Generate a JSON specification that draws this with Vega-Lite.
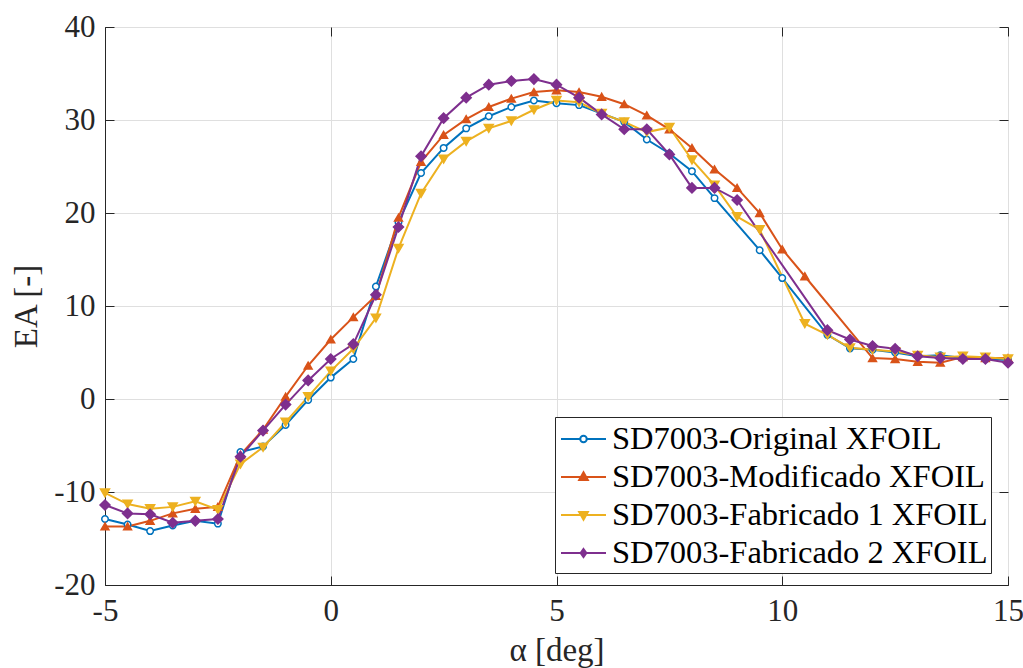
{
  "$schema": "https://vega.github.io/schema/vega-lite/v6.json",
  "width": 903,
  "height": 558,
  "autosize": {"type": "none"},
  "padding": {"left": 105, "top": 27, "right": 15, "bottom": 83},
  "background": "white",
  "config": {
    "view": {"stroke": "#262626", "strokeWidth": 1},
    "font": "Liberation Serif",
    "axis": {
      "labelFont": "Liberation Serif",
      "titleFont": "Liberation Serif",
      "labelFontSize": 31,
      "titleFontSize": 33,
      "titleFontWeight": "normal",
      "labelColor": "#262626",
      "titleColor": "#262626",
      "domainColor": "#262626",
      "tickColor": "#262626",
      "gridColor": "#dfdfdf",
      "gridOpacity": 1,
      "gridWidth": 1,
      "tickWidth": 1,
      "labelFlush": false
    }
  },
  "datasets": {
    "pts": [
      {"s": "SD7003-Original XFOIL", "a": -5, "ea": -12.9},
      {"s": "SD7003-Original XFOIL", "a": -4.5, "ea": -13.5},
      {"s": "SD7003-Original XFOIL", "a": -4, "ea": -14.2},
      {"s": "SD7003-Original XFOIL", "a": -3.5, "ea": -13.6},
      {"s": "SD7003-Original XFOIL", "a": -3, "ea": -13.1},
      {"s": "SD7003-Original XFOIL", "a": -2.5, "ea": -13.4},
      {"s": "SD7003-Original XFOIL", "a": -2, "ea": -5.7},
      {"s": "SD7003-Original XFOIL", "a": -1.5, "ea": -5.1},
      {"s": "SD7003-Original XFOIL", "a": -1, "ea": -2.8},
      {"s": "SD7003-Original XFOIL", "a": -0.5, "ea": -0.1},
      {"s": "SD7003-Original XFOIL", "a": 0, "ea": 2.3},
      {"s": "SD7003-Original XFOIL", "a": 0.5, "ea": 4.3},
      {"s": "SD7003-Original XFOIL", "a": 1, "ea": 12.1},
      {"s": "SD7003-Original XFOIL", "a": 1.5, "ea": 19.0},
      {"s": "SD7003-Original XFOIL", "a": 2, "ea": 24.3},
      {"s": "SD7003-Original XFOIL", "a": 2.5, "ea": 27.0},
      {"s": "SD7003-Original XFOIL", "a": 3, "ea": 29.1},
      {"s": "SD7003-Original XFOIL", "a": 3.5, "ea": 30.4},
      {"s": "SD7003-Original XFOIL", "a": 4, "ea": 31.4},
      {"s": "SD7003-Original XFOIL", "a": 4.5, "ea": 32.1},
      {"s": "SD7003-Original XFOIL", "a": 5, "ea": 31.8},
      {"s": "SD7003-Original XFOIL", "a": 5.5, "ea": 31.6},
      {"s": "SD7003-Original XFOIL", "a": 6, "ea": 30.7},
      {"s": "SD7003-Original XFOIL", "a": 6.5, "ea": 29.8},
      {"s": "SD7003-Original XFOIL", "a": 7, "ea": 27.9},
      {"s": "SD7003-Original XFOIL", "a": 7.5, "ea": 26.4},
      {"s": "SD7003-Original XFOIL", "a": 8, "ea": 24.5},
      {"s": "SD7003-Original XFOIL", "a": 8.5, "ea": 21.6},
      {"s": "SD7003-Original XFOIL", "a": 9.5, "ea": 16.0},
      {"s": "SD7003-Original XFOIL", "a": 10, "ea": 13.0},
      {"s": "SD7003-Original XFOIL", "a": 11, "ea": 6.9},
      {"s": "SD7003-Original XFOIL", "a": 11.5, "ea": 5.45},
      {"s": "SD7003-Original XFOIL", "a": 12, "ea": 5.3},
      {"s": "SD7003-Original XFOIL", "a": 12.5, "ea": 5.0},
      {"s": "SD7003-Original XFOIL", "a": 13, "ea": 4.6},
      {"s": "SD7003-Original XFOIL", "a": 13.5, "ea": 4.7},
      {"s": "SD7003-Original XFOIL", "a": 14, "ea": 4.4},
      {"s": "SD7003-Original XFOIL", "a": 14.5, "ea": 4.3},
      {"s": "SD7003-Original XFOIL", "a": 15, "ea": 4.2},

      {"s": "SD7003-Modificado XFOIL", "a": -5, "ea": -13.7},
      {"s": "SD7003-Modificado XFOIL", "a": -4.5, "ea": -13.7},
      {"s": "SD7003-Modificado XFOIL", "a": -4, "ea": -13.1},
      {"s": "SD7003-Modificado XFOIL", "a": -3.5, "ea": -12.3},
      {"s": "SD7003-Modificado XFOIL", "a": -3, "ea": -11.8},
      {"s": "SD7003-Modificado XFOIL", "a": -2.5, "ea": -11.6},
      {"s": "SD7003-Modificado XFOIL", "a": -2, "ea": -6.0},
      {"s": "SD7003-Modificado XFOIL", "a": -1.5, "ea": -3.3},
      {"s": "SD7003-Modificado XFOIL", "a": -1, "ea": 0.25},
      {"s": "SD7003-Modificado XFOIL", "a": -0.5, "ea": 3.6},
      {"s": "SD7003-Modificado XFOIL", "a": 0, "ea": 6.4},
      {"s": "SD7003-Modificado XFOIL", "a": 0.5, "ea": 8.8},
      {"s": "SD7003-Modificado XFOIL", "a": 1, "ea": 11.1},
      {"s": "SD7003-Modificado XFOIL", "a": 1.5, "ea": 19.5},
      {"s": "SD7003-Modificado XFOIL", "a": 2, "ea": 25.5},
      {"s": "SD7003-Modificado XFOIL", "a": 2.5, "ea": 28.4},
      {"s": "SD7003-Modificado XFOIL", "a": 3, "ea": 30.1},
      {"s": "SD7003-Modificado XFOIL", "a": 3.5, "ea": 31.4},
      {"s": "SD7003-Modificado XFOIL", "a": 4, "ea": 32.3},
      {"s": "SD7003-Modificado XFOIL", "a": 4.5, "ea": 33.0},
      {"s": "SD7003-Modificado XFOIL", "a": 5, "ea": 33.2},
      {"s": "SD7003-Modificado XFOIL", "a": 5.5, "ea": 33.0},
      {"s": "SD7003-Modificado XFOIL", "a": 6, "ea": 32.5},
      {"s": "SD7003-Modificado XFOIL", "a": 6.5, "ea": 31.7},
      {"s": "SD7003-Modificado XFOIL", "a": 7, "ea": 30.5},
      {"s": "SD7003-Modificado XFOIL", "a": 7.5, "ea": 29.0},
      {"s": "SD7003-Modificado XFOIL", "a": 8, "ea": 27.0},
      {"s": "SD7003-Modificado XFOIL", "a": 8.5, "ea": 24.7},
      {"s": "SD7003-Modificado XFOIL", "a": 9, "ea": 22.7},
      {"s": "SD7003-Modificado XFOIL", "a": 9.5, "ea": 20.0},
      {"s": "SD7003-Modificado XFOIL", "a": 10, "ea": 16.1},
      {"s": "SD7003-Modificado XFOIL", "a": 10.5, "ea": 13.2},
      {"s": "SD7003-Modificado XFOIL", "a": 12, "ea": 4.4},
      {"s": "SD7003-Modificado XFOIL", "a": 12.5, "ea": 4.3},
      {"s": "SD7003-Modificado XFOIL", "a": 13, "ea": 4.0},
      {"s": "SD7003-Modificado XFOIL", "a": 13.5, "ea": 3.9},
      {"s": "SD7003-Modificado XFOIL", "a": 14, "ea": 4.5},
      {"s": "SD7003-Modificado XFOIL", "a": 14.5, "ea": 4.4},
      {"s": "SD7003-Modificado XFOIL", "a": 15, "ea": 4.4},

      {"s": "SD7003-Fabricado 1 XFOIL", "a": -5, "ea": -10.1},
      {"s": "SD7003-Fabricado 1 XFOIL", "a": -4.5, "ea": -11.3},
      {"s": "SD7003-Fabricado 1 XFOIL", "a": -4, "ea": -11.8},
      {"s": "SD7003-Fabricado 1 XFOIL", "a": -3.5, "ea": -11.6},
      {"s": "SD7003-Fabricado 1 XFOIL", "a": -3, "ea": -11.0},
      {"s": "SD7003-Fabricado 1 XFOIL", "a": -2.5, "ea": -11.9},
      {"s": "SD7003-Fabricado 1 XFOIL", "a": -2, "ea": -7.0},
      {"s": "SD7003-Fabricado 1 XFOIL", "a": -1.5, "ea": -5.2},
      {"s": "SD7003-Fabricado 1 XFOIL", "a": -1, "ea": -2.5},
      {"s": "SD7003-Fabricado 1 XFOIL", "a": -0.5, "ea": 0.25},
      {"s": "SD7003-Fabricado 1 XFOIL", "a": 0, "ea": 3.0},
      {"s": "SD7003-Fabricado 1 XFOIL", "a": 0.5, "ea": 5.4},
      {"s": "SD7003-Fabricado 1 XFOIL", "a": 1, "ea": 8.7},
      {"s": "SD7003-Fabricado 1 XFOIL", "a": 1.5, "ea": 16.2},
      {"s": "SD7003-Fabricado 1 XFOIL", "a": 2, "ea": 22.1},
      {"s": "SD7003-Fabricado 1 XFOIL", "a": 2.5, "ea": 25.8},
      {"s": "SD7003-Fabricado 1 XFOIL", "a": 3, "ea": 27.7},
      {"s": "SD7003-Fabricado 1 XFOIL", "a": 3.5, "ea": 29.1},
      {"s": "SD7003-Fabricado 1 XFOIL", "a": 4, "ea": 29.9},
      {"s": "SD7003-Fabricado 1 XFOIL", "a": 4.5, "ea": 31.1},
      {"s": "SD7003-Fabricado 1 XFOIL", "a": 5, "ea": 32.1},
      {"s": "SD7003-Fabricado 1 XFOIL", "a": 5.5, "ea": 31.9},
      {"s": "SD7003-Fabricado 1 XFOIL", "a": 6, "ea": 30.7},
      {"s": "SD7003-Fabricado 1 XFOIL", "a": 6.5, "ea": 29.8},
      {"s": "SD7003-Fabricado 1 XFOIL", "a": 7, "ea": 28.7},
      {"s": "SD7003-Fabricado 1 XFOIL", "a": 7.5, "ea": 29.2},
      {"s": "SD7003-Fabricado 1 XFOIL", "a": 8, "ea": 25.7},
      {"s": "SD7003-Fabricado 1 XFOIL", "a": 8.5, "ea": 23.0},
      {"s": "SD7003-Fabricado 1 XFOIL", "a": 9, "ea": 19.6},
      {"s": "SD7003-Fabricado 1 XFOIL", "a": 9.5, "ea": 18.2},
      {"s": "SD7003-Fabricado 1 XFOIL", "a": 10.5, "ea": 8.1},
      {"s": "SD7003-Fabricado 1 XFOIL", "a": 11, "ea": 6.9},
      {"s": "SD7003-Fabricado 1 XFOIL", "a": 11.5, "ea": 5.5},
      {"s": "SD7003-Fabricado 1 XFOIL", "a": 12, "ea": 5.3},
      {"s": "SD7003-Fabricado 1 XFOIL", "a": 12.5, "ea": 5.1},
      {"s": "SD7003-Fabricado 1 XFOIL", "a": 13, "ea": 4.7},
      {"s": "SD7003-Fabricado 1 XFOIL", "a": 13.5, "ea": 4.5},
      {"s": "SD7003-Fabricado 1 XFOIL", "a": 14, "ea": 4.6},
      {"s": "SD7003-Fabricado 1 XFOIL", "a": 14.5, "ea": 4.5},
      {"s": "SD7003-Fabricado 1 XFOIL", "a": 15, "ea": 4.3},

      {"s": "SD7003-Fabricado 2 XFOIL", "a": -5, "ea": -11.4},
      {"s": "SD7003-Fabricado 2 XFOIL", "a": -4.5, "ea": -12.3},
      {"s": "SD7003-Fabricado 2 XFOIL", "a": -4, "ea": -12.4},
      {"s": "SD7003-Fabricado 2 XFOIL", "a": -3.5, "ea": -13.3},
      {"s": "SD7003-Fabricado 2 XFOIL", "a": -3, "ea": -13.1},
      {"s": "SD7003-Fabricado 2 XFOIL", "a": -2.5, "ea": -12.9},
      {"s": "SD7003-Fabricado 2 XFOIL", "a": -2, "ea": -6.2},
      {"s": "SD7003-Fabricado 2 XFOIL", "a": -1.5, "ea": -3.4},
      {"s": "SD7003-Fabricado 2 XFOIL", "a": -1, "ea": -0.6},
      {"s": "SD7003-Fabricado 2 XFOIL", "a": -0.5, "ea": 2.0},
      {"s": "SD7003-Fabricado 2 XFOIL", "a": 0, "ea": 4.3},
      {"s": "SD7003-Fabricado 2 XFOIL", "a": 0.5, "ea": 5.9},
      {"s": "SD7003-Fabricado 2 XFOIL", "a": 1, "ea": 11.2},
      {"s": "SD7003-Fabricado 2 XFOIL", "a": 1.5, "ea": 18.5},
      {"s": "SD7003-Fabricado 2 XFOIL", "a": 2, "ea": 26.1},
      {"s": "SD7003-Fabricado 2 XFOIL", "a": 2.5, "ea": 30.2},
      {"s": "SD7003-Fabricado 2 XFOIL", "a": 3, "ea": 32.4},
      {"s": "SD7003-Fabricado 2 XFOIL", "a": 3.5, "ea": 33.8},
      {"s": "SD7003-Fabricado 2 XFOIL", "a": 4, "ea": 34.2},
      {"s": "SD7003-Fabricado 2 XFOIL", "a": 4.5, "ea": 34.4},
      {"s": "SD7003-Fabricado 2 XFOIL", "a": 5, "ea": 33.8},
      {"s": "SD7003-Fabricado 2 XFOIL", "a": 5.5, "ea": 32.4},
      {"s": "SD7003-Fabricado 2 XFOIL", "a": 6, "ea": 30.6},
      {"s": "SD7003-Fabricado 2 XFOIL", "a": 6.5, "ea": 29.0},
      {"s": "SD7003-Fabricado 2 XFOIL", "a": 7, "ea": 29.0},
      {"s": "SD7003-Fabricado 2 XFOIL", "a": 7.5, "ea": 26.3},
      {"s": "SD7003-Fabricado 2 XFOIL", "a": 8, "ea": 22.7},
      {"s": "SD7003-Fabricado 2 XFOIL", "a": 8.5, "ea": 22.7},
      {"s": "SD7003-Fabricado 2 XFOIL", "a": 9, "ea": 21.4},
      {"s": "SD7003-Fabricado 2 XFOIL", "a": 11, "ea": 7.4},
      {"s": "SD7003-Fabricado 2 XFOIL", "a": 11.5, "ea": 6.4},
      {"s": "SD7003-Fabricado 2 XFOIL", "a": 12, "ea": 5.7},
      {"s": "SD7003-Fabricado 2 XFOIL", "a": 12.5, "ea": 5.4},
      {"s": "SD7003-Fabricado 2 XFOIL", "a": 13, "ea": 4.6},
      {"s": "SD7003-Fabricado 2 XFOIL", "a": 13.5, "ea": 4.4},
      {"s": "SD7003-Fabricado 2 XFOIL", "a": 14, "ea": 4.3},
      {"s": "SD7003-Fabricado 2 XFOIL", "a": 14.5, "ea": 4.3},
      {"s": "SD7003-Fabricado 2 XFOIL", "a": 15, "ea": 3.9}
    ]
  },
  "data": {"name": "pts"},
  "layer": [
    {
      "mark": {"type": "line", "strokeWidth": 2},
      "encoding": {
        "x": {
          "field": "a", "type": "quantitative",
          "scale": {"domain": [-5, 15], "nice": false, "zero": false},
          "axis": {"orient": "bottom", "title": "α [deg]", "values": [-5, 0, 5, 10, 15], "labelExpr": "toString(datum.value)", "ticks": false, "tickSize": 0, "labelPadding": 11, "titlePadding": 8, "grid": true}
        },
        "y": {
          "field": "ea", "type": "quantitative",
          "scale": {"domain": [-20, 40], "nice": false, "zero": false},
          "axis": {"orient": "left", "title": "EA [-]", "values": [-20, -10, 0, 10, 20, 30, 40], "labelExpr": "toString(datum.value)", "ticks": false, "tickSize": 0, "labelPadding": 10, "titlePadding": 10, "grid": true}
        },
        "color": {
          "field": "s", "type": "nominal",
          "scale": {"domain": ["SD7003-Original XFOIL", "SD7003-Modificado XFOIL", "SD7003-Fabricado 1 XFOIL", "SD7003-Fabricado 2 XFOIL"], "range": ["#0072BD", "#D95319", "#EDB120", "#7E2F8E"]},
          "legend": null
        }
      }
    },
    {
      "mark": {"type": "point", "filled": true, "strokeWidth": 1.5, "opacity": 1},
      "encoding": {
        "x": {
          "field": "a", "type": "quantitative",
          "scale": {"domain": [-5, 15], "nice": false, "zero": false},
          "axis": {"orient": "top", "title": null, "labels": false, "domain": false, "grid": false, "ticks": true, "tickSize": 9, "offset": -9, "values": [-5, 0, 5, 10, 15]}
        },
        "y": {
          "field": "ea", "type": "quantitative",
          "scale": {"domain": [-20, 40], "nice": false, "zero": false},
          "axis": {"orient": "right", "title": null, "labels": false, "domain": false, "grid": false, "ticks": true, "tickSize": 9, "offset": -9, "values": [-20, -10, 0, 10, 20, 30, 40]}
        },
        "stroke": {
          "field": "s", "type": "nominal", "legend": null,
          "scale": {"domain": ["SD7003-Original XFOIL", "SD7003-Modificado XFOIL", "SD7003-Fabricado 1 XFOIL", "SD7003-Fabricado 2 XFOIL"], "range": ["#0072BD", "#D95319", "#EDB120", "#7E2F8E"]}
        },
        "fill": {
          "field": "s", "type": "nominal", "legend": null,
          "scale": {"domain": ["SD7003-Original XFOIL", "SD7003-Modificado XFOIL", "SD7003-Fabricado 1 XFOIL", "SD7003-Fabricado 2 XFOIL"], "range": ["white", "#D95319", "#EDB120", "#7E2F8E"]}
        },
        "shape": {
          "field": "s", "type": "nominal", "legend": null,
          "scale": {"domain": ["SD7003-Original XFOIL", "SD7003-Modificado XFOIL", "SD7003-Fabricado 1 XFOIL", "SD7003-Fabricado 2 XFOIL"], "range": ["circle", "triangle-up", "triangle-down", "diamond"]}
        },
        "size": {
          "field": "s", "type": "nominal", "legend": null,
          "scale": {"domain": ["SD7003-Original XFOIL", "SD7003-Modificado XFOIL", "SD7003-Fabricado 1 XFOIL", "SD7003-Fabricado 2 XFOIL"], "range": [42, 100, 100, 56]}
        }
      }
    },
    {
      "mark": {"type": "point", "filled": false, "opacity": 0, "strokeWidth": 2},
      "encoding": {
        "x": {"field": "a", "type": "quantitative", "scale": {"domain": [-5, 15], "nice": false, "zero": false},
          "axis": {"orient": "bottom", "title": null, "labels": false, "domain": false, "grid": false, "ticks": true, "tickSize": 9, "offset": -9, "values": [-5, 0, 5, 10, 15]}},
        "y": {"field": "ea", "type": "quantitative", "scale": {"domain": [-20, 40], "nice": false, "zero": false},
          "axis": {"orient": "left", "title": null, "labels": false, "domain": false, "grid": false, "ticks": true, "tickSize": 9, "offset": -9, "values": [-20, -10, 0, 10, 20, 30, 40]}},
        "color": {
          "field": "s", "type": "nominal",
          "legend": {
            "title": null, "orient": "none", "legendX": 450, "legendY": 390, "direction": "vertical",
            "strokeColor": "#262626", "fillColor": "white", "padding": 3, "rowPadding": 2,
            "symbolSize": 1296, "symbolOffset": 6.5, "symbolStrokeWidth": 2, "symbolOpacity": 1,
            "labelOffset": 9.5, "labelFont": "Liberation Serif", "labelFontSize": 32.5, "labelColor": "#000000", "labelLimit": 0
          }
        },
        "shape": {
          "field": "s", "type": "nominal",
          "scale": {
            "domain": ["SD7003-Original XFOIL", "SD7003-Modificado XFOIL", "SD7003-Fabricado 1 XFOIL", "SD7003-Fabricado 2 XFOIL"],
            "range": [
              "M-1.25,0H-0.18M0.18,0H1.25M-0.18,0A0.18,0.18,0,1,0,0.18,0A0.18,0.18,0,1,0,-0.18,0Z",
              "M-1.25,0H1.25M-0.24,0.16L0.24,0.16L0,-0.26Z",
              "M-1.25,0H1.25M-0.24,-0.16L0.24,-0.16L0,0.26Z",
              "M-1.25,0H1.25M0,-0.22L0.16,0L0,0.22L-0.16,0Z"
            ]
          },
          "legend": {
            "title": null, "orient": "none", "legendX": 450, "legendY": 390, "direction": "vertical",
            "strokeColor": "#262626", "fillColor": "white", "padding": 3, "rowPadding": 2,
            "symbolSize": 1296, "symbolOffset": 6.5, "symbolStrokeWidth": 2, "symbolOpacity": 1,
            "labelOffset": 9.5, "labelFont": "Liberation Serif", "labelFontSize": 32.5, "labelColor": "#000000", "labelLimit": 0
          }
        },
        "fill": {
          "field": "s", "type": "nominal",
          "legend": {
            "title": null, "orient": "none", "legendX": 450, "legendY": 390, "direction": "vertical",
            "strokeColor": "#262626", "fillColor": "white", "padding": 3, "rowPadding": 2,
            "symbolSize": 1296, "symbolOffset": 6.5, "symbolStrokeWidth": 2, "symbolOpacity": 1,
            "labelOffset": 9.5, "labelFont": "Liberation Serif", "labelFontSize": 32.5, "labelColor": "#000000", "labelLimit": 0
          }
        }
      }
    }
  ],
  "resolve": {
    "scale": {"shape": "independent"},
    "legend": {"shape": "independent", "color": "independent", "fill": "independent"},
    "axis": {"x": "independent", "y": "independent"}
  }
}
